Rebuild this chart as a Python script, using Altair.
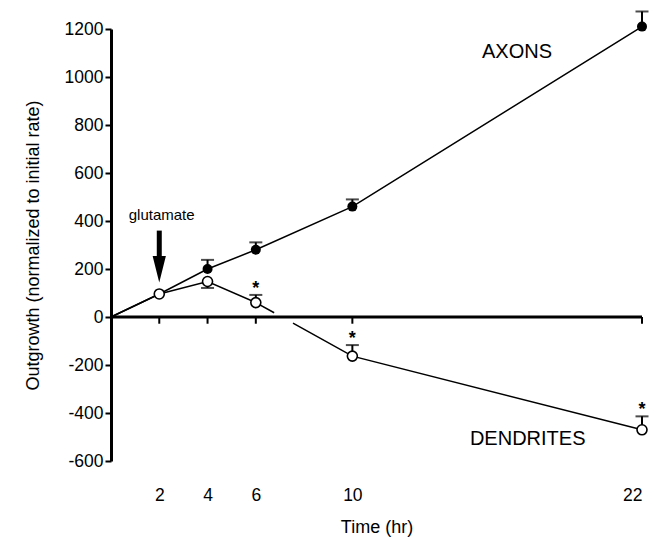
import altair as alt
import pandas as pd
import numpy as np

# ---- data ----
hours = [2, 4, 6, 10, 22]
axon_vals = [96, 200, 280, 460, 1210]
axon_err = [None, 238, 311, 490, 1273]
dend_vals = [96, 148, 60, -163, -470]
dend_err = [None, 121, 92, -117, -414]
dend_sig = [False, False, True, True, True]
x_ticks = [2, 4, 6, 10, 22]
y_ticks = list(range(-600, 1201, 200))
x_domain = [0, 22]
y_domain = [-600, 1200]
origin = (0, 0)
gap_frac = [0.19, 0.385]          # gap in dendrite line between 6 h and 10 h
arrow_x = 2
arrow_shaft = [360, 235]
arrow_head_center = 199
glut_label = (2.1, 425, "glutamate")
axon_label = (15.37, 1105, "AXONS")
dend_label = (14.87, -510, "DENDRITES")
x_tick_len = -28

FONT = "Liberation Sans"

xs = alt.Scale(domain=x_domain, nice=False, zero=False)
ys = alt.Scale(domain=y_domain, nice=False, zero=False)
xaxis = alt.Axis(values=x_ticks, domain=False, ticks=False, grid=False,
                 labelPadding=25, labelFontSize=17.5, labelFont=FONT, labelColor="black",
                 labelExpr="'' + datum.value",
                 titleFontSize=18, titleFont=FONT, titleFontWeight="normal", titleColor="black",
                 titlePadding=15)
yaxis = alt.Axis(values=y_ticks, grid=False, domainWidth=3, domainColor="black",
                 tickWidth=2, tickSize=6, tickColor="black", labelPadding=2,
                 labelFontSize=17.5, labelFont=FONT, labelColor="black", labelFlush=False,
                 labelExpr="'' + datum.value",
                 titleFontSize=18, titleFont=FONT, titleFontWeight="normal", titleColor="black",
                 titlePadding=22)


def X(field="x"):
    return alt.X(f"{field}:Q", scale=xs, axis=xaxis, title="Time (hr)")


def Y(field="y"):
    return alt.Y(f"{field}:Q", scale=ys, axis=yaxis, title="Outgrowth (normalized to initial rate)")


# zero axis line and its ticks
zero_df = pd.DataFrame({"x": [x_domain[0]], "x2": [x_domain[1]], "y": [0]})
zero_line = alt.Chart(zero_df).mark_rule(strokeWidth=3, color="black").encode(
    x=X(), x2="x2:Q", y=Y())
tick_df = pd.DataFrame({"x": x_ticks, "y": [0] * len(x_ticks), "y2": [x_tick_len] * len(x_ticks)})
zero_ticks = alt.Chart(tick_df).mark_rule(strokeWidth=2, color="black").encode(
    x=X(), y=Y(), y2="y2:Q")

# lines
axon_line_df = pd.DataFrame({"x": [origin[0]] + hours, "y": [origin[1]] + axon_vals})
axon_line = alt.Chart(axon_line_df).mark_line(color="black", strokeWidth=1.5).encode(
    x=X(), y=Y(), order="x:Q")

p6 = np.array([hours[2], dend_vals[2]], dtype=float)
p10 = np.array([hours[3], dend_vals[3]], dtype=float)
g0 = p6 + gap_frac[0] * (p10 - p6)
g1 = p6 + gap_frac[1] * (p10 - p6)
segA = [(origin[0], origin[1])] + list(zip(hours[:3], dend_vals[:3])) + [tuple(g0)]
segB = [tuple(g1)] + list(zip(hours[3:], dend_vals[3:]))
dend_line_df = pd.DataFrame(
    [{"x": a, "y": b, "seg": "A", "o": i} for i, (a, b) in enumerate(segA)]
    + [{"x": a, "y": b, "seg": "B", "o": i} for i, (a, b) in enumerate(segB)])
dend_line = alt.Chart(dend_line_df).mark_line(color="black", strokeWidth=1.5).encode(
    x=X(), y=Y(), detail="seg:N", order="o:Q")

# error bars
err_rows = []
for h, v, e in zip(hours, axon_vals, axon_err):
    if e is not None:
        err_rows.append({"x": h, "y": v, "y2": e})
for h, v, e in zip(hours, dend_vals, dend_err):
    if e is not None:
        err_rows.append({"x": h, "y": v, "y2": e})
err_df = pd.DataFrame(err_rows)
err_rule = alt.Chart(err_df).mark_rule(strokeWidth=2, color="black").encode(
    x=X(), y=Y(), y2="y2:Q")
cap_df = pd.DataFrame({"x": err_df["x"], "y": err_df["y2"]})
err_cap = alt.Chart(cap_df).mark_tick(orient="horizontal", size=13, thickness=2,
                                      color="black").encode(x=X(), y=Y())

# points
axon_pts = alt.Chart(pd.DataFrame({"x": hours, "y": axon_vals})).mark_point(
    shape="circle", filled=True, color="black", size=100, opacity=1).encode(x=X(), y=Y())
dend_pts = alt.Chart(pd.DataFrame({"x": hours, "y": dend_vals})).mark_point(
    shape="circle", filled=True, fill="white", stroke="black", strokeWidth=1.6,
    size=100, opacity=1).encode(x=X(), y=Y())

# significance stars
star_df = pd.DataFrame({"x": [h for h, s in zip(hours, dend_sig) if s],
                        "y": [e for e, s in zip(dend_err, dend_sig) if s]})
stars = alt.Chart(star_df).mark_text(text="*", fontSize=18, fontWeight="bold", font=FONT,
                                     baseline="middle", dy=-6, color="black").encode(x=X(), y=Y())

# arrow
shaft_df = pd.DataFrame({"x": [arrow_x], "y": [arrow_shaft[0]], "y2": [arrow_shaft[1]]})
shaft = alt.Chart(shaft_df).mark_rule(strokeWidth=5, color="black").encode(
    x=X(), y=Y(), y2="y2:Q")
head = alt.Chart(pd.DataFrame({"x": [arrow_x], "y": [arrow_head_center]})).mark_point(
    shape="M -0.5 -1 L 0.5 -1 L 0 1 Z", filled=True, color="black", size=700,
    opacity=1).encode(x=X(), y=Y())

# labels
glut = alt.Chart(pd.DataFrame({"x": [glut_label[0]], "y": [glut_label[1]], "t": [glut_label[2]]})).mark_text(
    fontSize=15, font=FONT, align="center", baseline="middle", color="black").encode(
    x=X(), y=Y(), text="t:N")
names_df = pd.DataFrame({"x": [axon_label[0], dend_label[0]], "y": [axon_label[1], dend_label[1]],
                         "t": [axon_label[2], dend_label[2]]})
names = alt.Chart(names_df).mark_text(fontSize=20, font=FONT, align="left", baseline="middle",
                                      color="black").encode(x=X(), y=Y(), text="t:N")

chart = alt.layer(zero_line, zero_ticks, axon_line, dend_line, err_rule, err_cap,
                  axon_pts, dend_pts, stars, shaft, head, glut, names).properties(
    width=531, height=432,
    autosize=alt.AutoSizeParams(type="none"),
    padding={"left": 103, "top": 21, "right": 15, "bottom": 80},
    background="white",
).configure_view(stroke=None)

chart.save("out.html", embed_options={"renderer": "svg", "actions": False})
